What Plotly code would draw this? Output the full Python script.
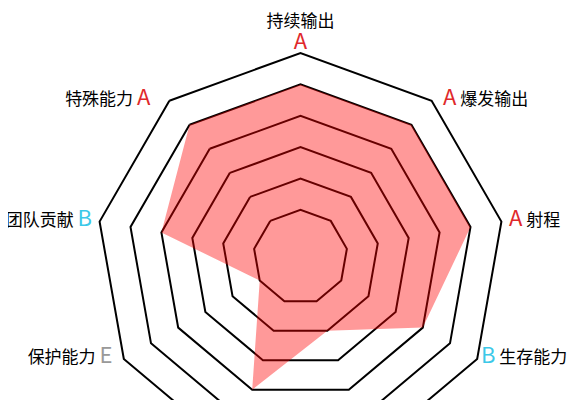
import plotly.graph_objects as go

# radar: 9 abilities, grade letters mapped to 1..6 (E=1 ... A=5, S=6)
abilities = ["持续输出", "爆发输出", "射程", "生存能力", "控制能力",
             "机动能力", "保护能力", "团队贡献", "特殊能力"]
grades = ["A", "A", "A", "B", "D", "B", "E", "B", "A"]
grade_score = {"E": 1, "D": 2, "C": 3, "B": 4, "A": 5, "S": 6}
grade_color = {"A": "#e0292b", "B": "#3cc8e8", "C": "#f0a030", "D": "#8bc34a", "E": "#999999"}
ring_vals = [1, 2, 3, 4, 5, 6]

scores = [grade_score[g] for g in grades]
r_max = ring_vals[-1]

# gap (in nbsp) between the outer vertex and each label
label_gap = [0, 3, 2, 1, 1, 1, 3, 2, 5]


def make_label(i, name, g):
    letter = "<span style='color:%s;font-size:22px'>%s</span>" % (grade_color[g], g)
    pad = "\u00a0" * label_gap[i]
    if i == 0:
        return name + "<br>" + letter
    if i <= 4:
        return pad + letter + " " + name
    return name + " " + letter + pad


def label_pos(i):
    if i == 0:
        return "top center"
    if i <= 4:
        return "middle right"
    return "middle left"


labels = [make_label(i, n, g) for i, (n, g) in enumerate(zip(abilities, grades))]
positions = [label_pos(i) for i in range(len(abilities))]

fig = go.Figure()
fig.add_trace(go.Scatterpolar(
    r=scores + scores[:1],
    theta=abilities + abilities[:1],
    mode="lines",
    fill="toself",
    fillcolor="rgba(255,0,0,0.4)",
    line=dict(width=0, color="rgba(255,0,0,0)"),
    hoverinfo="skip",
    showlegend=False,
))
# axis names + grade letters, placed at the outer ring vertices
fig.add_trace(go.Scatterpolar(
    r=[r_max] * len(abilities),
    theta=abilities,
    mode="text",
    text=labels,
    textposition=positions,
    textfont=dict(family="Noto Sans CJK SC", size=17, color="#000000"),
    cliponaxis=False,
    hoverinfo="skip",
    showlegend=False,
))

fig.update_layout(
    width=577,
    height=480,
    margin=dict(l=32, r=24, t=45, b=27),
    paper_bgcolor="white",
    font=dict(family="Noto Sans CJK SC", size=17, color="#000000"),
    polar=dict(
        bgcolor="white",
        gridshape="linear",
        domain=dict(x=[0, 1], y=[0, 1]),
        radialaxis=dict(
            range=[-0.5, r_max],
            tickvals=ring_vals,
            showticklabels=False,
            ticks="",
            showline=False,
            gridcolor="black",
            gridwidth=2,
        ),
        angularaxis=dict(
            rotation=90,
            direction="clockwise",
            categoryarray=abilities,
            showticklabels=False,
            ticks="",
            showgrid=False,
            showline=True,
            linecolor="black",
            linewidth=2,
        ),
    ),
)

fig.write_html("out.html")
